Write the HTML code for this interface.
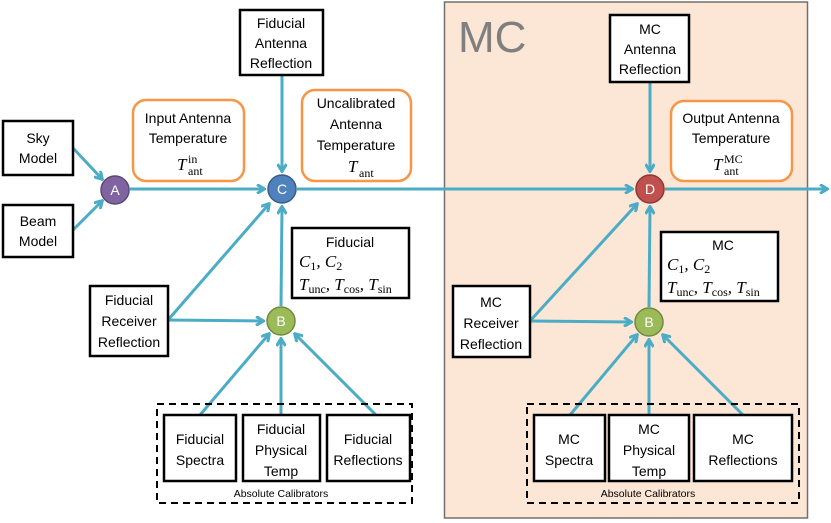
<!DOCTYPE html>
<html><head><meta charset="utf-8"><style>
html,body{margin:0;padding:0;background:#fff;}
svg{display:block;}
text{font-family:"Liberation Sans",sans-serif;font-size:14px;fill:#000;}
.m{font-family:"Liberation Serif",serif;font-style:italic;font-size:17px;}
.s{font-family:"Liberation Serif",serif;font-size:12px;font-style:normal;}
</style></head><body>
<svg width="831" height="523" viewBox="0 0 831 523" xmlns="http://www.w3.org/2000/svg">
<defs>
<marker id="ar" markerWidth="10" markerHeight="10" refX="8" refY="5" orient="auto" markerUnits="userSpaceOnUse">
<path d="M1,0.5 L8.5,5 L1,9.5" fill="none" stroke="#4bacc6" stroke-width="3"/>
</marker>
</defs>
<rect x="444.5" y="2" width="363" height="516" fill="#fce6d6" stroke="#707070" stroke-width="1.5"/>
<text x="458" y="52" style="font-size:44px;fill:#7f7f7f">MC</text>

<g stroke="#4bacc6" stroke-width="3" fill="none">
<line x1="73" y1="148" x2="102" y2="179" marker-end="url(#ar)"/>
<line x1="73" y1="230" x2="102" y2="201" marker-end="url(#ar)"/>
<line x1="130" y1="189" x2="264" y2="189" marker-end="url(#ar)"/>
<line x1="282" y1="76" x2="282" y2="171" marker-end="url(#ar)"/>
<line x1="297" y1="189" x2="632" y2="189" marker-end="url(#ar)"/>
<line x1="665" y1="189" x2="827" y2="189" marker-end="url(#ar)"/>
<line x1="650" y1="82" x2="650" y2="171" marker-end="url(#ar)"/>
<line x1="168" y1="320" x2="269" y2="204" marker-end="url(#ar)"/>
<line x1="168" y1="320" x2="263" y2="321" marker-end="url(#ar)"/>
<line x1="281" y1="306" x2="282" y2="207" marker-end="url(#ar)"/>
<line x1="200" y1="415" x2="269" y2="334" marker-end="url(#ar)"/>
<line x1="281" y1="415" x2="281" y2="339" marker-end="url(#ar)"/>
<line x1="376" y1="415" x2="295" y2="334" marker-end="url(#ar)"/>
<line x1="530" y1="321" x2="637" y2="204" marker-end="url(#ar)"/>
<line x1="530" y1="321" x2="631" y2="322" marker-end="url(#ar)"/>
<line x1="649" y1="307" x2="650" y2="207" marker-end="url(#ar)"/>
<line x1="570" y1="415" x2="637" y2="335" marker-end="url(#ar)"/>
<line x1="649" y1="415" x2="649" y2="340" marker-end="url(#ar)"/>
<line x1="743" y1="415" x2="663" y2="335" marker-end="url(#ar)"/>
</g>

<g fill="#fff" stroke="#000" stroke-width="2.5">
<rect x="3" y="121" width="70" height="54"/>
<rect x="3" y="205" width="70" height="52"/>
<rect x="240" y="10" width="83" height="65"/>
<rect x="292" y="228" width="117" height="70"/>
<rect x="90" y="286" width="78" height="70"/>
<rect x="164" y="415" width="72" height="66"/>
<rect x="243" y="415" width="77" height="66"/>
<rect x="327" y="415" width="83" height="66"/>
<rect x="610" y="15" width="79" height="67"/>
<rect x="661" y="232" width="117" height="69"/>
<rect x="453" y="286" width="77" height="71"/>
<rect x="534" y="415" width="71" height="66"/>
<rect x="609" y="415" width="80" height="66"/>
<rect x="694" y="415" width="98" height="66"/>
</g>
<g fill="none" stroke="#000" stroke-width="2" stroke-dasharray="7,5">
<rect x="157" y="404" width="255" height="99"/>
<rect x="527" y="404" width="272" height="99"/>
</g>
<g fill="#fff" stroke="#f79646" stroke-width="2.5">
<rect x="133" y="100" width="111" height="81" rx="13"/>
<rect x="302" y="90" width="109" height="91" rx="13"/>
<rect x="671" y="101" width="121" height="80" rx="13"/>
</g>

<g stroke-width="1.5">
<circle cx="115" cy="190" r="14" fill="#8064a2" stroke="#5c4776"/>
<circle cx="282" cy="189" r="14" fill="#4f81bd" stroke="#385d8a"/>
<circle cx="650" cy="189" r="14" fill="#c0504d" stroke="#8c3836"/>
<circle cx="281" cy="321" r="14" fill="#9bbb59" stroke="#71893f"/>
<circle cx="649" cy="322" r="14" fill="#9bbb59" stroke="#71893f"/>
</g>
<g text-anchor="middle">
<text x="115" y="195" style="fill:#fff">A</text>
<text x="282" y="194" style="fill:#fff">C</text>
<text x="650" y="194" style="fill:#fff">D</text>
<text x="281" y="326" style="fill:#fff">B</text>
<text x="649" y="327" style="fill:#fff">B</text>
</g>

<g text-anchor="middle">
<text x="38" y="143">Sky</text><text x="38" y="163">Model</text>
<text x="38" y="226">Beam</text><text x="38" y="246">Model</text>
<text x="281" y="28">Fiducial</text><text x="281" y="48">Antenna</text><text x="281" y="68">Reflection</text>
<text x="650" y="34">MC</text><text x="650" y="54">Antenna</text><text x="650" y="74">Reflection</text>
<text x="188" y="123">Input Antenna</text><text x="188" y="143">Temperature</text>
<text x="356" y="108">Uncalibrated</text><text x="356" y="129">Antenna</text><text x="356" y="150">Temperature</text>
<text x="731" y="123">Output Antenna</text><text x="731" y="143">Temperature</text>
<text x="129" y="305">Fiducial</text><text x="129" y="326">Receiver</text><text x="129" y="347">Reflection</text>
<text x="491" y="307">MC</text><text x="491" y="328">Receiver</text><text x="491" y="349">Reflection</text>
<text x="350" y="247">Fiducial</text>
<text x="723" y="250">MC</text>
<text x="200" y="444">Fiducial</text><text x="200" y="465">Spectra</text>
<text x="281" y="434">Fiducial</text><text x="281" y="455">Physical</text><text x="281" y="476">Temp</text>
<text x="368" y="444">Fiducial</text><text x="368" y="465">Reflections</text>
<text x="569" y="444">MC</text><text x="569" y="465">Spectra</text>
<text x="649" y="434">MC</text><text x="649" y="455">Physical</text><text x="649" y="476">Temp</text>
<text x="743" y="444">MC</text><text x="743" y="465">Reflections</text>
<text x="281" y="497" style="font-size:10.5px">Absolute Calibrators</text>
<text x="648" y="497" style="font-size:10.5px">Absolute Calibrators</text>
</g>

<text x="177" y="170" class="m">T</text><text x="188" y="175" class="s">ant</text><text x="188" y="163" class="s">in</text>
<text x="348" y="172" class="m">T</text><text x="359" y="177" class="s">ant</text>
<text x="713" y="170" class="m">T</text><text x="724" y="175" class="s">ant</text><text x="724" y="163" class="s">MC</text>

<text x="299" y="267" class="m">C<tspan class="s" dy="3">1</tspan><tspan dy="-3">, C</tspan><tspan class="s" dy="3">2</tspan></text>
<text x="299" y="290" class="m">T<tspan class="s" dy="3">unc</tspan><tspan dy="-3">, T</tspan><tspan class="s" dy="3">cos</tspan><tspan dy="-3">, T</tspan><tspan class="s" dy="3">sin</tspan></text>
<text x="667" y="270" class="m">C<tspan class="s" dy="3">1</tspan><tspan dy="-3">, C</tspan><tspan class="s" dy="3">2</tspan></text>
<text x="667" y="293" class="m">T<tspan class="s" dy="3">unc</tspan><tspan dy="-3">, T</tspan><tspan class="s" dy="3">cos</tspan><tspan dy="-3">, T</tspan><tspan class="s" dy="3">sin</tspan></text>
</svg>
</body></html>
